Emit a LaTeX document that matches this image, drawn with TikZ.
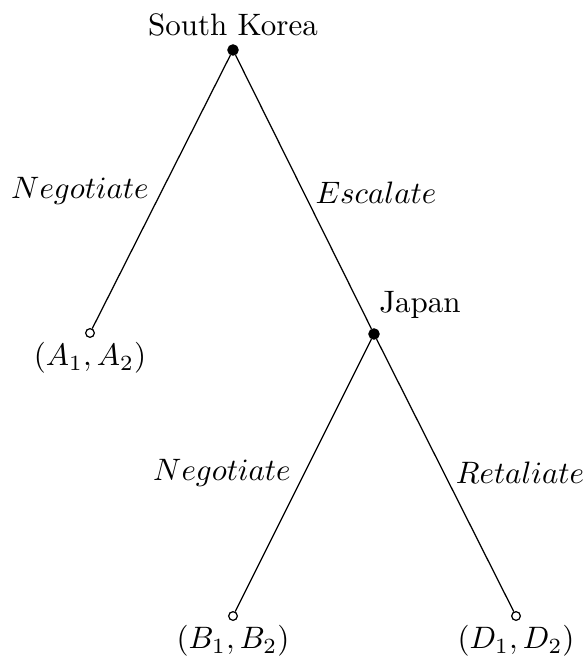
\documentclass[tikz,border=0pt]{standalone}
\begin{document}
\begin{tikzpicture}[x=0.3226pt,y=-0.3226pt,
  decision/.style={circle,fill=black,draw=black,inner sep=0pt,minimum size=3.3pt},
  terminal/.style={circle,fill=white,draw=black,line width=0.4pt,inner sep=0pt,minimum size=2.8pt},
  branch/.style={line width=0.4pt},
  lbl/.style={inner sep=0pt}]
\useasboundingbox (0,0) rectangle (585,669);
\node[decision] (sk) at (233,50) {};
\node[terminal] (a) at (90,333) {};
\node[decision] (jp) at (374,334) {};
\node[terminal] (b) at (233,616) {};
\node[terminal] (d) at (516,616) {};
\draw[branch] (sk) -- (a);
\draw[branch] (sk) -- (jp);
\draw[branch] (jp) -- (b);
\draw[branch] (jp) -- (d);
\node[lbl] (tsk) at (233,25) {South Korea};
\node[lbl] (tjp) at (420,305) {Japan};
\node[lbl] (n1) at (80,191) {$Negotiate$};
\node[lbl] (e1) at (376,193) {$Escalate$};
\node[lbl] (n2) at (222,473) {$Negotiate$};
\node[lbl] (r2) at (520,473) {$Retaliate$};
\node[lbl] (pa) at (90,358) {$(A_1,A_2)$};
\node[lbl] (pb) at (233,641) {$(B_1,B_2)$};
\node[lbl] (pd) at (516,641) {$(D_1,D_2)$};
\end{tikzpicture}
\end{document}
